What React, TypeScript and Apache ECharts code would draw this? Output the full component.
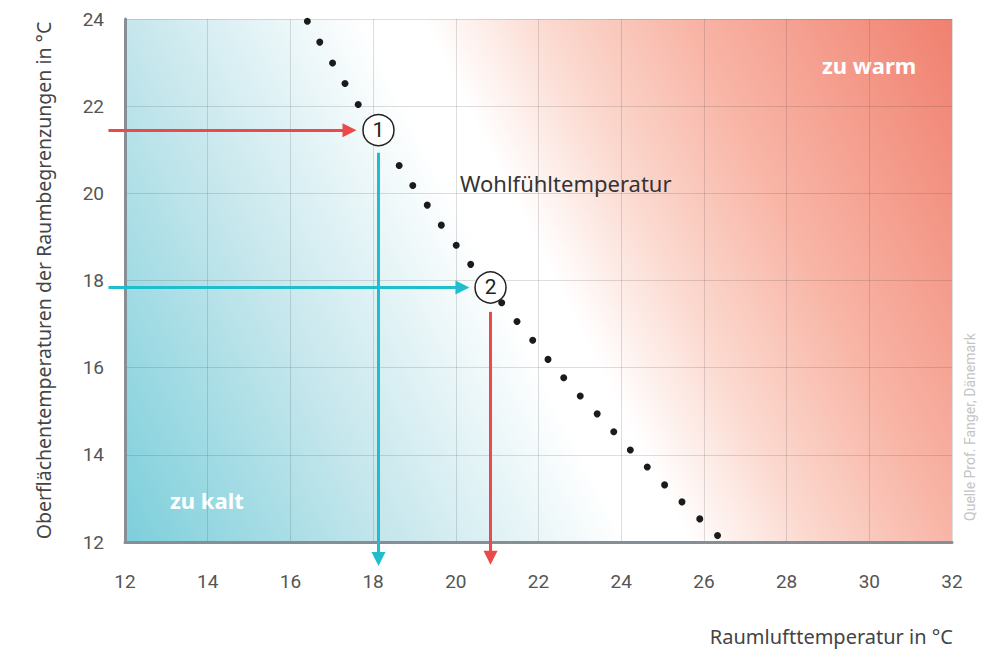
import React, { useEffect, useRef } from "react";
import * as echarts from "echarts";

// Comfort line ("Wohlfühltemperatur") dots: air temperature vs surface temperature
const comfortX = [16.41, 16.71, 17.02, 17.32, 17.64, 18.63, 18.96, 19.31, 19.65, 20.01, 20.36, 21.11, 21.48, 21.86, 22.23, 22.61, 23.01, 23.42, 23.82, 24.22, 24.63, 25.05, 25.47, 25.9, 26.33];
const comfortY = [23.95, 23.47, 22.99, 22.52, 22.04, 20.64, 20.18, 19.73, 19.27, 18.81, 18.37, 17.49, 17.06, 16.63, 16.19, 15.77, 15.35, 14.94, 14.53, 14.11, 13.72, 13.31, 12.92, 12.53, 12.15];

// Numbered example points
const markerX = [18.13, 20.84];
const markerY = [21.45, 17.84];
const markerLabels = ["1", "2"];

// Arrow lines (start -> end), in data units
const arrowStartX = [11.6, 18.13, 11.6, 20.84];
const arrowStartY = [21.45, 20.93, 17.84, 17.28];
const arrowEndX = [17.43, 18.13, 20.16, 20.84];
const arrowEndY = [21.45, 11.61, 17.84, 11.64];
const arrowKind = ["red", "teal", "teal", "red"];

const xMin = 12, xMax = 32, yMin = 12, yMax = 24, step = 2;

export default function App() {
  const ref = useRef<HTMLDivElement>(null);
  useEffect(() => {
    if (!ref.current) return;
    const chart = echarts.init(ref.current, undefined, { renderer: "svg" });
    const font = "'Noto Sans', Roboto, sans-serif";
    const tickFont = "Roboto, 'Noto Sans', sans-serif";
    const kindColor: Record<string, string> = { red: "#ea4a4a", teal: "#20bdcc" };
    const gridLeft = 125, gridTop = 19, gridRight = 50, gridBottom = 107;
    const x0 = gridLeft, y0 = 649 - gridBottom;
    const bg = new echarts.graphic.LinearGradient(x0, y0, x0 + 870, y0 - 441, [
      { offset: 0, color: "#7ccfdb" },
      { offset: 0.24, color: "#c4e6ec" },
      { offset: 0.46, color: "#ffffff" },
      { offset: 0.515, color: "#ffffff" },
      { offset: 0.63, color: "#fbd8ce" },
      { offset: 0.76, color: "#f8b4a5" },
      { offset: 1, color: "#f0806f" },
    ], true);
    const axisLine = { show: true, lineStyle: { color: "#878f96", width: 3 } };
    const splitLine = { show: true, lineStyle: { color: "rgba(60,60,60,0.17)", width: 1 } };
    chart.setOption({
      animation: false,
      grid: {
        left: gridLeft, top: gridTop, right: gridRight, bottom: gridBottom,
        show: true, backgroundColor: bg, borderWidth: 0,
      },
      xAxis: {
        type: "value", min: xMin, max: xMax, interval: step,
        axisLine, splitLine, axisTick: { show: false },
        axisLabel: { margin: 30, fontSize: 19, color: "#555", fontFamily: tickFont },
      },
      yAxis: {
        type: "value", min: yMin, max: yMax, interval: step,
        axisLine, splitLine, axisTick: { show: false },
        axisLabel: { margin: 21, fontSize: 19, color: "#555", fontFamily: tickFont },
        name: "Oberflächentemperaturen der Raumbegrenzungen in °C",
        nameLocation: "middle", nameRotate: 90, nameGap: 72,
        nameTextStyle: { fontSize: 19.5, color: "#444", fontFamily: font },
      },
      series: [
        {
          type: "lines",
          coordinateSystem: "cartesian2d",
          clip: false,
          z: 3,
          symbol: ["none", "triangle"],
          symbolSize: [20, 14],
          data: arrowStartX.map((sx, i) => ({
            coords: [[sx, arrowStartY[i]], [arrowEndX[i], arrowEndY[i]]],
            lineStyle: { color: kindColor[arrowKind[i]], width: 3, opacity: 1 },
          })),
        },
        {
          type: "scatter",
          z: 4,
          symbol: "circle",
          symbolSize: 7,
          itemStyle: { color: "#1b1b1b", opacity: 1 },
          data: comfortX.map((x, i) => [x, comfortY[i]]),
        },
        {
          type: "scatter",
          z: 5,
          symbol: "circle",
          symbolSize: 31,
          itemStyle: { color: "#ffffff", borderColor: "#222", borderWidth: 1.5, opacity: 1 },
          label: {
            show: true, position: "inside", fontSize: 21, color: "#222", fontFamily: tickFont, fontWeight: "normal",
            formatter: (p: any) => markerLabels[p.dataIndex],
          },
          data: markerX.map((x, i) => [x, markerY[i]]),
        },
      ],
      graphic: [
        {
          type: "text", x: 460, y: 183,
          style: { text: "Wohlfühltemperatur", fill: "#333", fontSize: 22, fontFamily: font, align: "left", verticalAlign: "middle" },
        },
        {
          type: "text", x: 822, y: 65,
          style: { text: "zu warm", fill: "#ffffff", fontSize: 22, fontWeight: "bold", fontFamily: font, align: "left", verticalAlign: "middle" },
        },
        {
          type: "text", x: 170, y: 500,
          style: { text: "zu kalt", fill: "#ffffff", fontSize: 22, fontWeight: "bold", fontFamily: font, align: "left", verticalAlign: "middle" },
        },
        {
          type: "text", x: 953, y: 636,
          style: { text: "Raumlufttemperatur in °C", fill: "#444", fontSize: 20, fontFamily: font, align: "right", verticalAlign: "middle" },
        },
        {
          type: "text", x: 970, y: 427, rotation: Math.PI / 2,
          style: { text: "Quelle Prof. Fanger, Dänemark", fill: "#c4c4c4", fontSize: 14, fontFamily: tickFont, align: "center", verticalAlign: "middle" },
        },
      ],
    });
    return () => chart.dispose();
  }, []);
  return (
    <div
      ref={ref}
      style={{ position: "fixed", left: 0, top: 0, width: 1002, height: 649, background: "#fff" }}
    />
  );
}
